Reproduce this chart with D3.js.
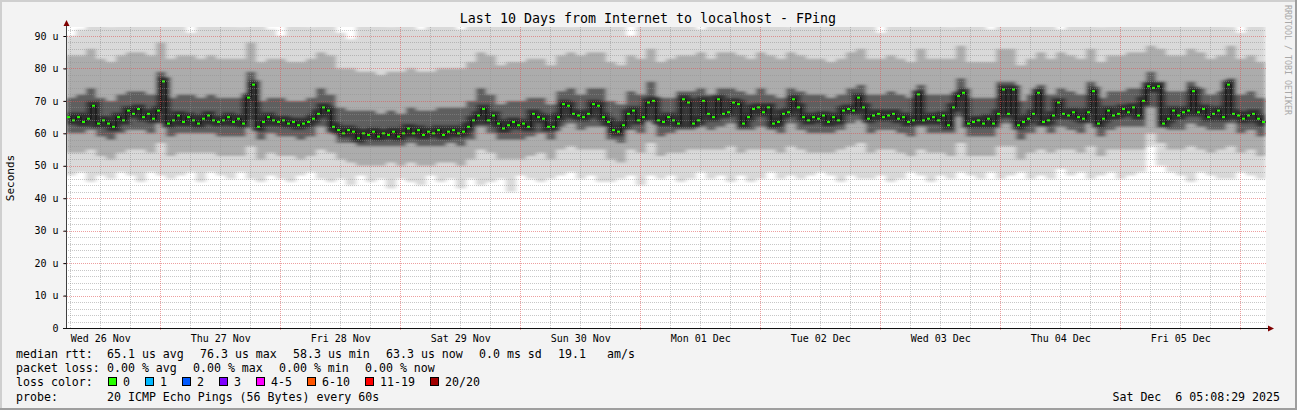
<!DOCTYPE html>
<html>
<head>
<meta charset="utf-8">
<script src="https://cdn.jsdelivr.net/npm/d3@7"></script>
<style>
  body { margin: 0; background: #fff; }
  svg text { font-family: "DejaVu Sans Mono", monospace; fill: #000; white-space: pre; }
</style>
</head>
<body>
<script>
// ---- chart data ----
const title = "Last 10 Days from Internet to localhost - FPing";
const startTime = Date.UTC(2025, 10, 26, 5, 8, 29);
const endTime = Date.UTC(2025, 11, 6, 5, 8, 29);
const yTicks = [0, 10, 20, 30, 40, 50, 60, 70, 80, 90];

// hourly median rtt (microseconds)
const medianRtt = [
  65, 64, 65, 63.5, 64.5, 68.5, 63, 64, 63, 62,
  65, 64, 67, 66, 67.5, 65, 66, 64.5, 67, 76,
  63, 64, 65.5, 63.5, 65, 64, 63, 64.5, 65.5, 64,
  63.5, 64, 65, 63.5, 64.5, 63, 71, 75, 62, 63.5,
  65, 64, 63.5, 64, 63, 63.5, 62.5, 63, 63.5, 64.5,
  66, 68, 67, 62, 61, 60, 61, 60.5, 58.5, 60,
  59.5, 60.5, 59, 60, 59.5, 60.5, 59, 60, 61.5, 60,
  61, 59.5, 60.5, 60, 61, 59.5, 60.5, 61, 60, 60.5,
  62, 64, 65.5, 67.5, 64, 65.5, 63, 61.5, 62.5, 63.5,
  62.5, 63, 62, 66, 65, 64.5, 62, 62, 65, 69,
  68.5, 66, 65.5, 65, 66, 69, 68.5, 65, 63.5, 61,
  60.5, 62.5, 66, 67, 64, 65, 69.5, 70, 64, 63.5,
  65, 64, 63, 70.5, 69.5, 63, 64, 70, 66, 65,
  70.5, 66, 66.5, 69.5, 69, 63, 65, 67.5, 68, 66.5,
  68, 63, 63.5, 66, 66.5, 70.5, 68, 65, 64, 65,
  64.5, 65.5, 63.5, 65, 64, 67, 67.5, 67, 71, 68,
  64.5, 65.5, 66, 65, 65.5, 66, 64.5, 65, 63.5, 64,
  72, 64, 64.5, 65, 64, 65.5, 62.5, 68, 71.5, 72.5,
  63, 63.5, 64, 63, 64.5, 63, 66, 73.5, 66, 73.5,
  62.5, 63.5, 64.5, 66, 72.5, 63.5, 64, 65.5, 69.5, 66,
  65.5, 66.5, 65, 64.5, 66.5, 73, 63, 64.5, 67, 65.5,
  66, 67.5, 66.5, 68, 65.5, 70, 74.5, 74, 74.5, 63,
  64.5, 67, 65.5, 66.5, 67, 73, 66.5, 67.5, 65, 66,
  67, 65, 75, 66, 65.5, 64.5, 65.5, 66, 64.5, 63.5
];

// smoke spread, one value per 2 hours
const smokeMin = [
  47, 48, 45, 47, 46, 48, 47, 45, 48, 47,
  46, 47, 48, 45, 48, 47, 46, 48, 46, 45,
  47, 46, 45, 47, 48, 46, 45, 46, 44, 47,
  45, 46, 43, 46, 45, 44, 47, 45, 46, 43,
  46, 44, 45, 46, 42, 47, 46, 45, 46, 47,
  48, 46, 47, 45, 45, 46, 47, 44, 47, 46,
  47, 45, 46, 48, 46, 47, 45, 47, 45, 46,
  48, 46, 47, 46, 47, 48, 47, 45, 47, 46,
  46, 47, 45, 46, 48, 47, 45, 47, 46, 48,
  47, 46, 48, 46, 47, 48, 46, 47, 46, 49,
  47, 48, 46, 47, 48, 46, 47, 48, 56, 50,
  48, 47, 45, 48, 47, 46, 46, 48, 47, 46
];
const smokeQ10 = [
  54, 54, 55, 53, 52, 54, 55, 55, 54, 57,
  53, 54, 54, 54, 54, 53, 53, 53, 56, 52,
  54, 53, 53, 52, 53, 55, 54, 52, 51, 50,
  50, 50, 51, 50, 51, 50, 50, 51, 51, 50,
  52, 55, 54, 52, 52, 52, 53, 54, 52, 55,
  56, 55, 55, 55, 52, 51, 55, 54, 57, 53,
  54, 54, 55, 55, 55, 55, 56, 54, 55, 55,
  55, 54, 56, 55, 54, 54, 54, 55, 56, 57,
  54, 55, 55, 54, 53, 55, 54, 54, 53, 57,
  53, 53, 53, 56, 56, 52, 54, 55, 54, 55,
  55, 54, 56, 53, 55, 55, 55, 55, 60, 57,
  55, 55, 56, 55, 54, 55, 56, 54, 55, 53
];
const smokeQ25 = [
  60, 60, 61, 59, 58, 60, 61, 61, 60, 63,
  59, 60, 60, 60, 60, 59, 59, 59, 64, 58,
  60, 59, 59, 58, 59, 62, 60, 57, 57, 56,
  56, 56, 56, 56, 57, 56, 56, 56, 57, 56,
  58, 62, 60, 58, 58, 58, 59, 60, 58, 62,
  63, 61, 62, 62, 58, 57, 61, 60, 64, 59,
  60, 61, 61, 62, 61, 62, 63, 61, 61, 62,
  61, 60, 63, 61, 60, 60, 60, 61, 63, 64,
  60, 61, 61, 60, 59, 62, 60, 60, 60, 65,
  59, 59, 59, 63, 63, 58, 60, 62, 60, 62,
  61, 60, 63, 59, 61, 62, 62, 62, 68, 63,
  61, 61, 63, 62, 61, 61, 63, 60, 61, 59
];
const smokeQ75 = [
  71, 72, 74, 71, 70, 72, 73, 73, 72, 79,
  71, 72, 72, 71, 72, 71, 71, 71, 79, 70,
  71, 71, 70, 70, 71, 74, 72, 68, 67, 67,
  67, 66, 67, 66, 68, 67, 67, 68, 68, 68,
  70, 74, 72, 69, 70, 70, 71, 71, 69, 73,
  74, 72, 74, 74, 70, 69, 73, 72, 76, 71,
  71, 73, 73, 74, 72, 74, 74, 73, 72, 74,
  72, 71, 74, 73, 72, 72, 71, 72, 74, 75,
  72, 72, 73, 72, 71, 75, 72, 72, 72, 77,
  71, 71, 71, 76, 76, 70, 72, 75, 72, 74,
  73, 72, 76, 71, 73, 73, 74, 74, 79, 76,
  73, 73, 76, 74, 72, 73, 77, 72, 73, 71
];
const smokeQ90 = [
  84, 84, 86, 83, 82, 84, 85, 85, 84, 88,
  83, 84, 84, 83, 84, 83, 83, 83, 88, 82,
  83, 83, 82, 82, 83, 85, 84, 80, 80, 79,
  79, 78, 79, 79, 80, 79, 79, 80, 80, 80,
  82, 85, 84, 81, 82, 82, 83, 83, 81, 84,
  85, 84, 85, 85, 82, 81, 84, 83, 86, 82,
  83, 84, 84, 85, 83, 85, 85, 84, 83, 85,
  84, 83, 85, 84, 83, 83, 82, 83, 85, 86,
  83, 83, 84, 83, 82, 86, 83, 83, 83, 87,
  82, 82, 82, 86, 86, 81, 83, 85, 83, 85,
  84, 83, 86, 82, 84, 84, 85, 85, 87, 86,
  84, 84, 86, 85, 83, 84, 87, 83, 84, 82
];
const smokeMax = [
  90, 92, 95, 95, 93, 95, 95, 95, 94, 95,
  95, 95, 91, 95, 95, 95, 95, 93, 95, 95,
  92, 90, 95, 95, 93, 95, 95, 91, 89, 95,
  95, 95, 93, 95, 95, 92, 95, 95, 95, 92,
  95, 95, 95, 95, 94, 95, 95, 95, 95, 95,
  93, 95, 95, 95, 95, 95, 90, 95, 95, 95,
  95, 95, 95, 92, 95, 95, 95, 95, 95, 95,
  95, 95, 93, 95, 95, 95, 95, 95, 95, 95,
  95, 91, 95, 95, 95, 95, 95, 95, 93, 95,
  95, 95, 92, 95, 95, 95, 95, 95, 95, 92,
  95, 95, 95, 93, 95, 95, 95, 95, 95, 95,
  95, 95, 95, 95, 95, 95, 93, 91, 95, 95
];

const lossLabels = ["0", "1", "2", "3", "4-5", "6-10", "11-19", "20/20"];
const lossColors = ["#26ff00", "#00b8ff", "#0059ff", "#7e00ff", "#ff00ff", "#ff5500", "#ff0000", "#a10000"];
const rttStats = ["65.1 us avg", "76.3 us max", "58.3 us min", "63.3 us now", "0.0 ms sd", "19.1", "am/s"];
const lossStats = ["0.00 % avg", "0.00 % max", "0.00 % min", "0.00 % now"];
const probeText = "20 ICMP Echo Pings (56 Bytes) every 60s";
const stampText = "Sat Dec  6 05:08:29 2025";

// ---- layout ----
const w = 1297;
const h = 410;
const plotLeft = 66, plotRight = 1266, plotTop = 27, plotBottom = 328;
const HOUR = 3600 * 1000;

const svg = d3.select("body").append("svg").attr("width", w).attr("height", h);
const defs = svg.append("defs");

// background with rrdtool style frame
svg.append("rect").attr("width", w).attr("height", h).attr("fill", "#f3f3f3");
svg.append("path").attr("d", `M0,${h} V0 H${w}`).attr("stroke", "#cfcfcf").attr("stroke-width", 4).attr("fill", "none");
svg.append("path").attr("d", `M0,${h} H${w} V0`).attr("stroke", "#9e9e9e").attr("stroke-width", 4).attr("fill", "none");

const xScale = d3.scaleUtc().domain([startTime, endTime]).range([plotLeft, plotRight]);
const yScale = d3.scaleLinear().domain([0, (plotBottom - plotTop) / (292 / 90)]).range([plotBottom, plotTop]);

defs.append("clipPath").attr("id", "plot")
  .append("rect").attr("x", plotLeft).attr("y", plotTop).attr("width", plotRight - plotLeft).attr("height", plotBottom - plotTop);
defs.append("filter").attr("id", "soft").attr("x", "-1%").attr("width", "102%")
  .append("feGaussianBlur").attr("stdDeviation", "2.2 0.8");

svg.append("rect").attr("x", plotLeft).attr("y", plotTop).attr("width", plotRight - plotLeft).attr("height", plotBottom - plotTop).attr("fill", "#fff");

// smoke bands
const smoke = smokeMin.map((v, k) => ({
  t: startTime + k * 2 * HOUR,
  min: v, q10: smokeQ10[k], q25: smokeQ25[k], q75: smokeQ75[k], q90: smokeQ90[k], max: smokeMax[k]
}));
smoke.push(Object.assign({}, smoke[smoke.length - 1], { t: endTime }));

const bands = [
  ["min", "max", "#d9d9d9"],
  ["q10", "q90", "#acacac"],
  ["q25", "q75", "#5e5e5e"]
];
const plotG = svg.append("g").attr("clip-path", "url(#plot)");
const smokeG = plotG.append("g").attr("filter", "url(#soft)");
bands.forEach(([lo, hi, col]) => {
  const area = d3.area()
    .x((d) => xScale(d.t))
    .y0((d) => yScale(d[lo]))
    .y1((d) => yScale(d[hi]))
    .curve(d3.curveStepAfter);
  smokeG.append("path").datum(smoke).attr("d", area).attr("fill", col);
});

// median
const med = medianRtt.map((v, i) => ({ t: startTime + i * HOUR, v: v }));
const medLine = d3.line().x((d) => xScale(d.t)).y((d) => yScale(d.v)).curve(d3.curveStepAfter);
const medExt = med.concat([{ t: endTime, v: med[med.length - 1].v }]);
smokeG.append("path").datum(medExt).attr("d", medLine)
  .attr("fill", "none").attr("stroke", "#262626").attr("stroke-width", 9).attr("opacity", 0.85);
plotG.append("path").datum(medExt).attr("d", medLine)
  .attr("fill", "none").attr("stroke", "#111").attr("stroke-width", 1);

// grid (drawn over smoke like rrdtool)
const gridG = svg.append("g");
const minorY = d3.range(0, 93, 2).filter((v) => v % 10 !== 0);
gridG.selectAll(".gy").data(minorY).enter().append("line")
  .attr("x1", plotLeft).attr("x2", plotRight)
  .attr("y1", (d) => Math.round(yScale(d)) + 0.5).attr("y2", (d) => Math.round(yScale(d)) + 0.5)
  .attr("stroke", "rgba(143,143,143,0.5)").attr("stroke-dasharray", "1,1");
const midnights = d3.utcDay.range(startTime, endTime);
const sixHours = d3.utcHour.every(6).range(startTime, endTime).filter((d) => d.getUTCHours() !== 0);
gridG.selectAll(".gx").data(sixHours).enter().append("line")
  .attr("y1", plotTop).attr("y2", plotBottom)
  .attr("x1", (d) => Math.round(xScale(d)) + 0.5).attr("x2", (d) => Math.round(xScale(d)) + 0.5)
  .attr("stroke", "rgba(143,143,143,0.5)").attr("stroke-dasharray", "1,1");
gridG.selectAll(".my").data(yTicks.slice(1)).enter().append("line")
  .attr("x1", plotLeft - 3).attr("x2", plotRight)
  .attr("y1", (d) => Math.round(yScale(d)) + 0.5).attr("y2", (d) => Math.round(yScale(d)) + 0.5)
  .attr("stroke", "rgba(222,81,81,0.55)").attr("stroke-dasharray", "1,1");
gridG.selectAll(".mx").data(midnights).enter().append("line")
  .attr("y1", plotTop).attr("y2", plotBottom + 3)
  .attr("x1", (d) => Math.round(xScale(d)) + 0.5).attr("x2", (d) => Math.round(xScale(d)) + 0.5)
  .attr("stroke", "rgba(222,81,81,0.55)").attr("stroke-dasharray", "1,1");

// green median marks (loss 0)
plotG.selectAll(".dot").data(med).enter().append("rect")
  .attr("x", (d) => xScale(d.t) + 1)
  .attr("y", (d) => yScale(d.v) - 1)
  .attr("width", 3).attr("height", 2)
  .attr("fill", lossColors[0]);

// axes
const yAxis = d3.axisLeft(yScale).tickValues(yTicks)
  .tickFormat((d) => (d === 0 ? "0" : d + " u")).tickSize(3).tickPadding(5);
svg.append("g").attr("transform", `translate(${plotLeft + 0.5},0)`).call(yAxis)
  .call((g) => g.select(".domain").remove())
  .call((g) => g.selectAll("text").attr("font-size", "10px").attr("font-family", "DejaVu Sans Mono"));

const noons = midnights.map((d) => new Date(+d - 12 * HOUR)).concat([new Date(+midnights[midnights.length - 1] + 12 * HOUR)])
  .filter((d) => +d > startTime && +d < endTime);
const xAxis = d3.axisBottom(xScale).tickValues(noons).tickFormat(d3.utcFormat("%a %d %b")).tickSize(0).tickPadding(6.5);
svg.append("g").attr("transform", `translate(0,${plotBottom})`).call(xAxis)
  .call((g) => g.select(".domain").remove())
  .call((g) => g.selectAll("text").attr("font-size", "10px").attr("font-family", "DejaVu Sans Mono"));

svg.append("line").attr("x1", plotLeft + 0.5).attr("x2", plotLeft + 0.5).attr("y1", plotBottom).attr("y2", 22).attr("stroke", "#404040");
svg.append("line").attr("x1", plotLeft - 3).attr("x2", 1270).attr("y1", plotBottom + 0.5).attr("y2", plotBottom + 0.5).attr("stroke", "#111");
svg.append("path").attr("d", `M${plotLeft - 2.5},26 L${plotLeft + 0.5},20 L${plotLeft + 3.5},26 Z`).attr("fill", "#7f0000");
svg.append("path").attr("d", `M1268,${plotBottom - 2.5} L1274,${plotBottom + 0.5} L1268,${plotBottom + 3.5} Z`).attr("fill", "#7f0000");

// titles
svg.append("text").attr("x", 648).attr("y", 23).attr("text-anchor", "middle")
  .style("font-size", "13.3px").text(title);
svg.append("text").attr("transform", "translate(14,178) rotate(-90)").attr("text-anchor", "middle")
  .style("font-size", "11px").text("Seconds");
svg.append("text").attr("transform", "translate(1285,5) rotate(90)")
  .style("font-size", "8.3px").style("fill", "#a8a8a8").text("RRDTOOL / TOBI OETIKER");

// legend
const fs = "11.6px";
const row = (y, label) => svg.append("text").attr("x", 16).attr("y", y).style("font-size", fs).text(label);
row(357.5, "median rtt:");
const rttX = [107, 200, 293, 386, 479, 558, 607];
rttStats.forEach((s, i) => svg.append("text").attr("x", rttX[i]).attr("y", 357.5).style("font-size", fs).text(s));
row(371.5, "packet loss:");
const lossX = [107, 193, 279, 365];
lossStats.forEach((s, i) => svg.append("text").attr("x", lossX[i]).attr("y", 371.5).style("font-size", fs).text(s));
row(386, "loss color:");
const boxX = [108, 145, 182, 219, 256, 307, 365, 430];
lossLabels.forEach((s, i) => {
  svg.append("rect").attr("x", boxX[i] + 0.5).attr("y", 377.5).attr("width", 8).attr("height", 8)
    .attr("fill", lossColors[i]).attr("stroke", "#000");
  svg.append("text").attr("x", boxX[i] + 15).attr("y", 386).style("font-size", fs).text(s);
});
row(400.5, "probe:");
svg.append("text").attr("x", 107).attr("y", 400.5).style("font-size", fs).text(probeText);
svg.append("text").attr("x", 1280).attr("y", 400.5).attr("text-anchor", "end").style("font-size", fs).text(stampText);
</script>
</body>
</html>
